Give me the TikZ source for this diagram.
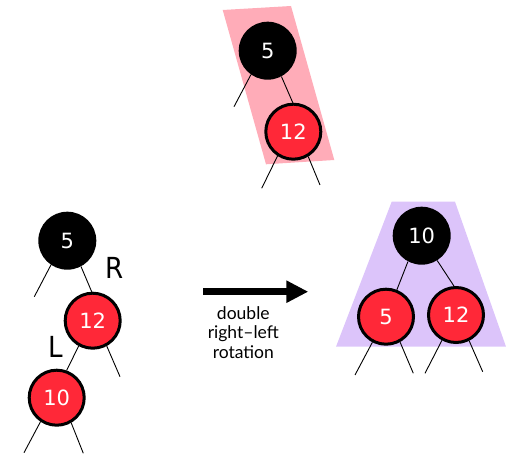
\documentclass[tikz,border=0pt]{standalone}
\usepackage{fontspec}
\usetikzlibrary{arrows.meta}
\newfontfamily\digitfont{DejaVu Sans}
\newfontfamily\labelfont{DejaVu Sans Condensed}
\newfontfamily\captionfont{Lato}
\definecolor{nodered}{RGB}{255,40,56}
\definecolor{bandpink}{RGB}{255,172,184}
\definecolor{bandlilac}{RGB}{220,196,250}
\tikzset{
  rbnode/.style={circle, inner sep=0pt, text=white, font=\digitfont\fontsize{21}{23}\selectfont},
  blacknode/.style={rbnode, fill=black, minimum size=58pt},
  rednode/.style={rbnode, fill=nodered, draw=black, line width=3pt, minimum size=55pt},
  edge/.style={draw=black, line width=0.9pt},
  sidelabel/.style={font=\labelfont\fontsize{29}{30}\selectfont},
}
\begin{document}
\begin{tikzpicture}[x=1pt, y=-1pt]
\useasboundingbox (0,0) rectangle (506,454);

% highlighted bands behind the rotated subtrees
\fill[bandpink] (222.7,10) -- (291,6) -- (334.3,160) -- (266,164.3) -- cycle;
\fill[bandlilac] (391.7,201.7) -- (455,201.7) -- (506,346.7) -- (336,346.7) -- cycle;

% ---- top: 5 with right child 12
\node[blacknode] (t5) at (267.7,50.7) {5};
\node[rednode] (t12) at (293.3,131.7) {12};
\coordinate (t5l) at (234,106.7);
\coordinate (t12l) at (261.7,188.3);
\coordinate (t12r) at (320,185);
\draw[edge] (t5.-125) -- (t5l);
\draw[edge] (t5.-62) -- (t12.91);
\draw[edge] (t12.-123) -- (t12l);
\draw[edge] (t12.-59) -- (t12r);

% ---- left: before the rotation
\node[blacknode] (l5) at (67.3,240.7) {5};
\node[rednode] (l12) at (92.7,320.7) {12};
\node[rednode] (l10) at (56.7,397.7) {10};
\node[sidelabel] (lr) at (115,267.5) {R};
\node[sidelabel] (ll) at (55.5,346.7) {L};
\coordinate (l5l) at (34.3,296.7);
\coordinate (l12r) at (120,376.7);
\coordinate (l10l) at (24,452.7);
\coordinate (l10r) at (83.3,453.3);
\draw[edge] (l5.-124) -- (l5l);
\draw[edge] (l5.-62) -- (l12.92);
\draw[edge] (l12.-61) -- (l12r);
\draw[edge] (l12.-119) -- (l10.70);
\draw[edge] (l10.-124) -- (l10l);
\draw[edge] (l10.-60) -- (l10r);

% ---- arrow and caption
\coordinate (as) at (203.3,291.7);
\coordinate (ae) at (308.3,291.7);
\draw[line width=7pt, -{Triangle[length=22pt, width=21pt]}] (as) -- (ae);
\node[font=\captionfont\fontsize{17.5}{19.5}\selectfont, align=center] (cap) at (243.3,332.5) {double\\right–left\\rotation};

% ---- right: after the rotation
\node[blacknode] (r10) at (421.7,235.7) {10};
\node[rednode] (r5) at (386,316.7) {5};
\node[rednode] (r12) at (456,315) {12};
\coordinate (r5l) at (355,375);
\coordinate (r5r) at (413.3,373.3);
\coordinate (r12l) at (425,373.3);
\coordinate (r12r) at (482.7,371.7);
\draw[edge] (r10.-118) -- (r5.68);
\draw[edge] (r10.-58) -- (r12.94);
\draw[edge] (r5.-118) -- (r5l);
\draw[edge] (r5.-61) -- (r5r);
\draw[edge] (r12.-119) -- (r12l);
\draw[edge] (r12.-63) -- (r12r);
\end{tikzpicture}
\end{document}
